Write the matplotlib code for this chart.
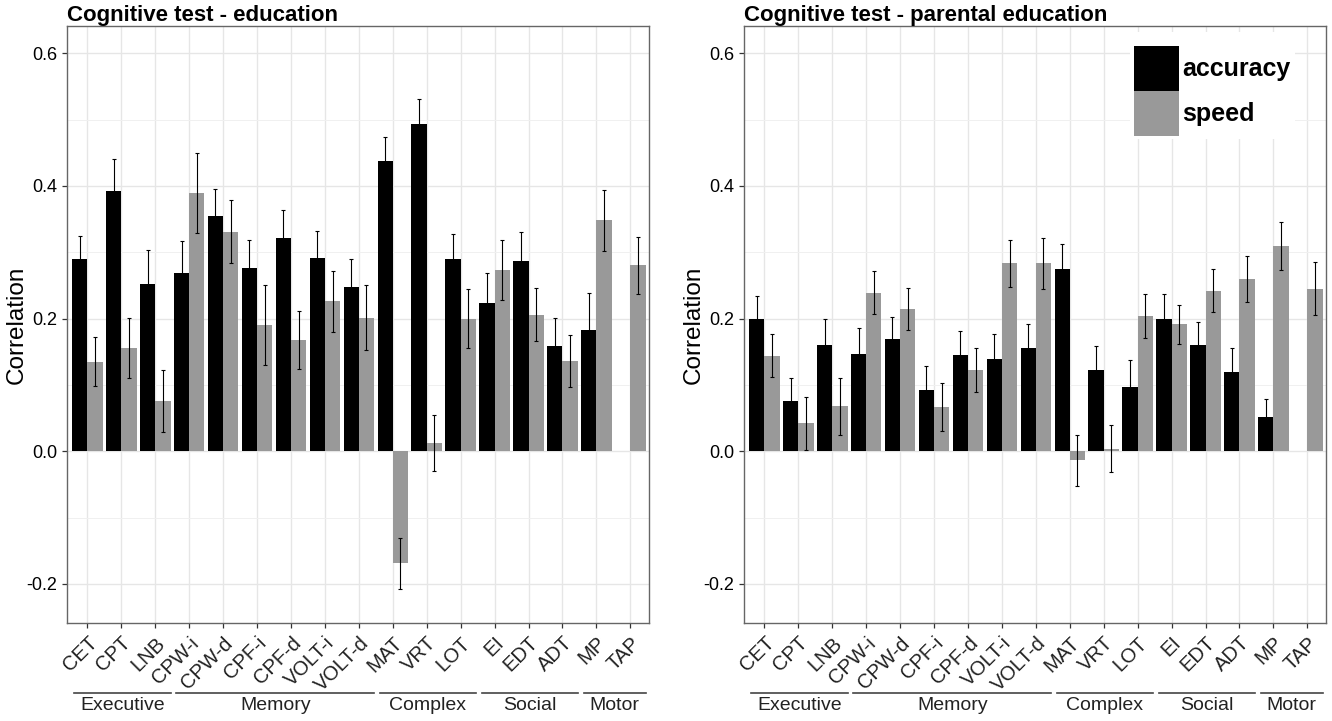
import numpy as np
import matplotlib
matplotlib.use("Agg")
import matplotlib.pyplot as plt
import matplotlib.transforms as mtransforms
from matplotlib.patches import Patch

plt.rcParams['font.family'] = ['Liberation Sans', 'DejaVu Sans']

tests = ['CET', 'CPT', 'LNB', 'CPW-i', 'CPW-d', 'CPF-i', 'CPF-d', 'VOLT-i', 'VOLT-d',
         'MAT', 'VRT', 'LOT', 'EI', 'EDT', 'ADT', 'MP', 'TAP']
groups = ['Executive', 'Memory', 'Complex', 'Social', 'Motor']
group_first = [0, 3, 9, 12, 15]
group_last = [2, 8, 11, 14, 16]

nan = np.nan
# education
acc_edu = [0.289, 0.393, 0.252, 0.268, 0.355, 0.276, 0.321, 0.292, 0.248,
           0.437, 0.493, 0.290, 0.223, 0.287, 0.158, 0.183, nan]
acc_edu_err = [0.035, 0.047, 0.051, 0.049, 0.040, 0.042, 0.042, 0.040, 0.041,
               0.037, 0.038, 0.037, 0.045, 0.044, 0.043, 0.056, nan]
spd_edu = [0.135, 0.156, 0.076, 0.389, 0.331, 0.190, 0.168, 0.226, 0.201,
           -0.169, 0.012, 0.200, 0.273, 0.206, 0.136, 0.348, 0.280]
spd_edu_err = [0.037, 0.045, 0.047, 0.060, 0.048, 0.060, 0.044, 0.046, 0.049,
               0.038, 0.042, 0.044, 0.045, 0.040, 0.039, 0.046, 0.043]

# parental education
acc_par = [0.200, 0.075, 0.160, 0.147, 0.169, 0.092, 0.145, 0.139, 0.155,
           0.275, 0.123, 0.097, 0.200, 0.160, 0.119, 0.051, nan]
acc_par_err = [0.034, 0.036, 0.040, 0.038, 0.034, 0.036, 0.036, 0.038, 0.036,
               0.038, 0.035, 0.040, 0.037, 0.035, 0.036, 0.027, nan]
spd_par = [0.144, 0.042, 0.068, 0.239, 0.214, 0.067, 0.122, 0.283, 0.283,
           -0.014, 0.004, 0.204, 0.191, 0.242, 0.260, 0.309, 0.245]
spd_par_err = [0.032, 0.040, 0.043, 0.032, 0.032, 0.036, 0.033, 0.036, 0.039,
               0.038, 0.036, 0.033, 0.030, 0.032, 0.035, 0.036, 0.040]

ACC_COLOR = '#000000'
SPD_COLOR = '#999999'
W, H = 1332, 721


def draw_panel(fig, ax, title, acc, acc_err, spd, spd_err):
    x = np.arange(1, len(tests) + 1)
    bw = 0.45
    ax.bar(x - bw / 2, acc, bw, color=ACC_COLOR, zorder=2)
    ax.bar(x + bw / 2, spd, bw, color=SPD_COLOR, zorder=2)
    ax.errorbar(x - bw / 2, acc, yerr=acc_err, fmt='none', ecolor='black',
                elinewidth=0.8, capsize=1.3, capthick=0.8, zorder=3)
    ax.errorbar(x + bw / 2, spd, yerr=spd_err, fmt='none', ecolor='black',
                elinewidth=0.8, capsize=1.3, capthick=0.8, zorder=3)

    ax.set_xlim(0.4, len(tests) + 0.55)
    ax.set_ylim(-0.259, 0.641)
    ax.set_yticks([-0.2, 0.0, 0.2, 0.4, 0.6])
    ax.set_yticklabels(['-0.2', '0.0', '0.2', '0.4', '0.6'])
    ax.set_yticks([-0.1, 0.1, 0.3, 0.5], minor=True)
    ax.set_xticks(x)
    ax.set_xticklabels(tests, rotation=45, ha='right', va='top',
                       rotation_mode='anchor', fontsize=14.5, color='#222222')
    shift = mtransforms.ScaledTranslation(4 / 100, 0, fig.dpi_scale_trans)
    for lab in ax.get_xticklabels():
        lab.set_transform(lab.get_transform() + shift)
    ax.grid(True, which='major', color='#e6e6e6', linewidth=1.0, zorder=0)
    ax.grid(True, which='minor', axis='y', color='#f0f0f0', linewidth=0.7, zorder=0)
    ax.set_axisbelow(True)
    ax.tick_params(axis='both', which='major', length=3.5, width=0.9,
                   color='#333333', labelsize=13)
    ax.tick_params(axis='x', labelsize=14.5, pad=4)
    ax.tick_params(axis='y', which='minor', length=0)
    for s in ax.spines.values():
        s.set_color('#666666')
        s.set_linewidth(1.0)
    ax.set_ylabel('Correlation', fontsize=17.5, labelpad=-1)
    ax.set_title(title, loc='left', fontsize=16, fontweight='bold', pad=3)

    # category groups under the tick labels
    tr = ax.get_xaxis_transform()
    for name, a, b in zip(groups, group_first, group_last):
        x0, x1 = x[a] - 0.38, x[b] + 0.45
        ax.plot([x0, x1], [-0.117, -0.117], color='#444444', lw=1.2,
                transform=tr, clip_on=False)
        ax.text((x0 + x1) / 2, -0.139, name, transform=tr, ha='center',
                va='center', fontsize=14, color='#222222')


fig = plt.figure(figsize=(W / 100, H / 100), dpi=100)
ax1 = fig.add_axes([67 / W, 1 - 623 / H, 582 / W, 597 / H])
ax2 = fig.add_axes([744 / W, 1 - 623 / H, 582 / W, 597 / H])

draw_panel(fig, ax1, 'Cognitive test - education', acc_edu, acc_edu_err, spd_edu, spd_edu_err)
draw_panel(fig, ax2, 'Cognitive test - parental education', acc_par, acc_par_err, spd_par, spd_par_err)

handles = [Patch(facecolor=ACC_COLOR), Patch(facecolor=SPD_COLOR)]
leg = ax2.legend(handles, ['accuracy', 'speed'], loc='upper left',
                 bbox_to_anchor=(0.663, 0.99), borderaxespad=0,
                 prop={'weight': 'bold', 'size': 18},
                 handlelength=1.8, handleheight=2.39, labelspacing=0,
                 handletextpad=0.16, borderpad=0.15, frameon=True,
                 fancybox=False, framealpha=1, title=' ', title_fontsize=8)
leg.get_frame().set_edgecolor('none')
leg.get_frame().set_facecolor('white')

fig.savefig('out.png', dpi=100)
